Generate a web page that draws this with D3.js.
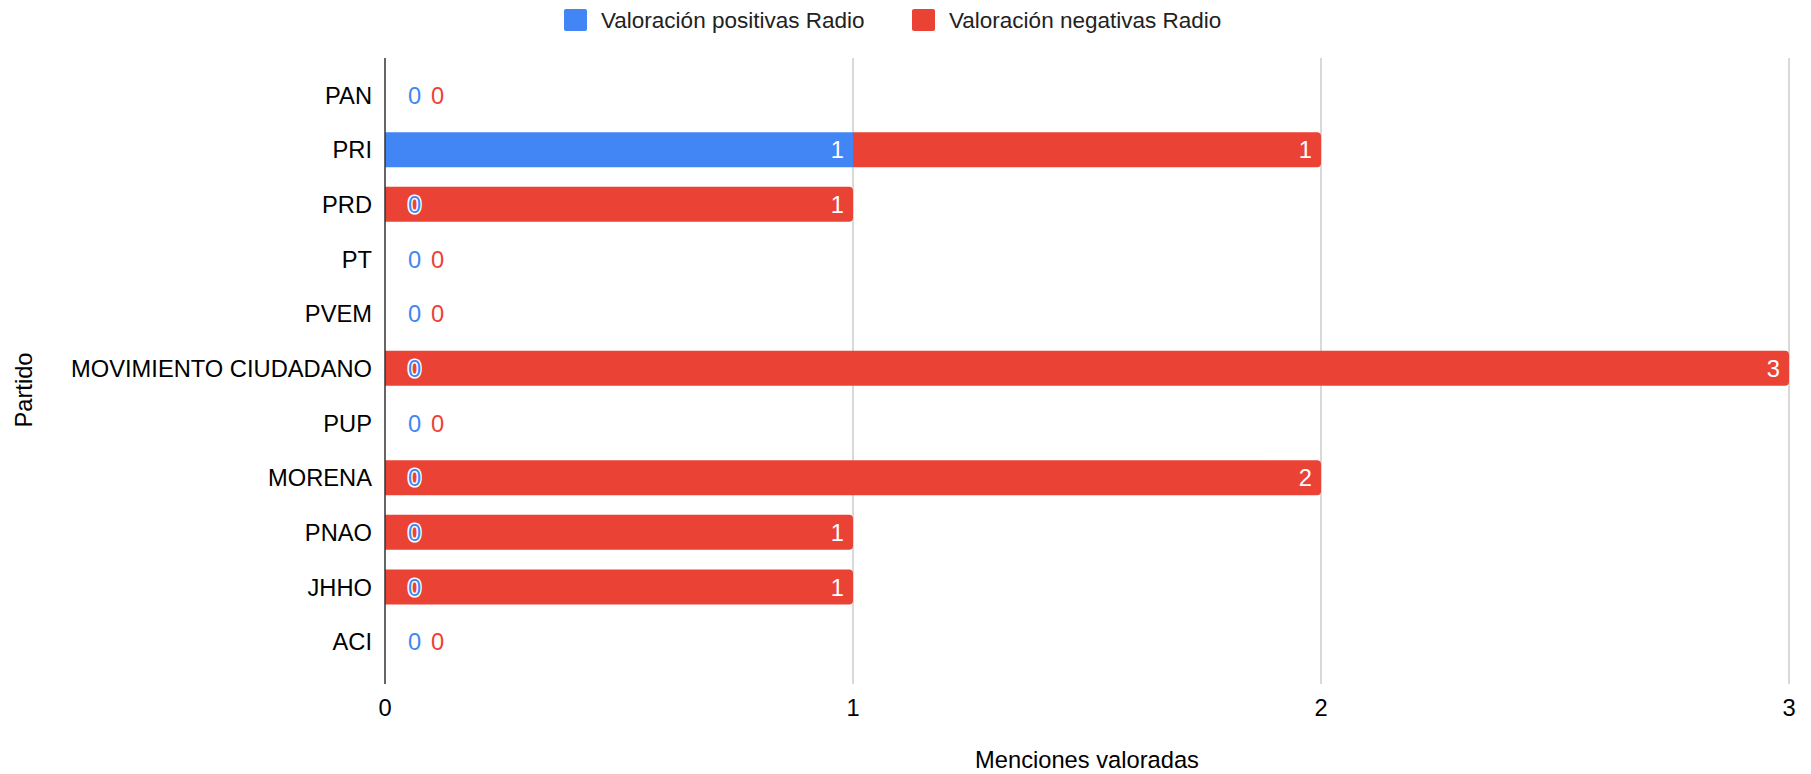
<!DOCTYPE html>
<html><head><meta charset="utf-8">
<script src="https://cdn.jsdelivr.net/npm/d3@7"></script>
<style>html,body{margin:0;padding:0;background:#fff;}svg{display:block;font-family:"Liberation Sans",Arial,Helvetica,sans-serif;}</style>
</head><body>
<svg id="chart" width="1811" height="774"></svg>
<script>
const categories = ["PAN","PRI","PRD","PT","PVEM","MOVIMIENTO CIUDADANO","PUP","MORENA","PNAO","JHHO","ACI"];
const positivas = [0,1,0,0,0,0,0,0,0,0,0];
const negativas = [0,1,1,0,0,3,0,2,1,1,0];
const seriesNames = ["Valoración positivas Radio","Valoración negativas Radio"];
const seriesColors = ["#4285F4","#EA4335"];
const xTicks = [0,1,2,3];
const xTitle = "Menciones valoradas";
const yTitle = "Partido";

const svg = d3.select("#chart");
const FS = 23.7, LFS = 22.5;
const plotLeft = 385, plotRight = 1789, plotTop = 58, plotBottom = 684;
const x = d3.scaleLinear().domain([0,3]).range([plotLeft, plotRight]);
const y = d3.scaleBand().domain(categories).range([67.7, 669]).paddingInner(0.36).paddingOuter(0.18);

// gridlines
svg.append("g").selectAll("line").data(xTicks.filter(t=>t!==0)).join("line")
  .attr("x1", d=>x(d)).attr("x2", d=>x(d)).attr("y1", plotTop).attr("y2", plotBottom)
  .attr("stroke", "#cccccc").attr("stroke-width", 1.5);

// bars
const rows = categories.map((c,i)=>({c, p: positivas[i], n: negativas[i]}));
const r = 4;
function barPath(x0, x1, y0, h, roundRight){
  if (!roundRight) return `M${x0},${y0}H${x1}V${y0+h}H${x0}Z`;
  const rr = Math.min(r, (x1-x0));
  return `M${x0},${y0}H${x1-rr}Q${x1},${y0} ${x1},${y0+rr}V${y0+h-rr}Q${x1},${y0+h} ${x1-rr},${y0+h}H${x0}Z`;
}
const g = svg.append("g");
rows.forEach(d=>{
  const y0 = y(d.c), h = y.bandwidth();
  if (d.p > 0) g.append("path").attr("d", barPath(x(0), x(d.p), y0, h, d.n===0)).attr("fill", seriesColors[0]);
  if (d.n > 0) g.append("path").attr("d", barPath(x(d.p), x(d.p+d.n), y0, h, true)).attr("fill", seriesColors[1]);
});

// axis line at zero
svg.append("line").attr("x1", x(0)).attr("x2", x(0)).attr("y1", plotTop).attr("y2", plotBottom)
  .attr("stroke", "#333333").attr("stroke-width", 1.5);

// value labels
const lg = svg.append("g").attr("font-size", FS);
rows.forEach(d=>{
  const cy = y(d.c) + y.bandwidth()/2;
  const vals = [d.p, d.n];
  let cum = 0;
  vals.forEach((v,k)=>{
    if (v > 0) {
      cum += v;
      lg.append("text").attr("x", x(cum) - 9).attr("y", cy).attr("dy", "0.36em")
        .attr("text-anchor", "end").attr("fill", "#ffffff").text(v);
    }
  });
  const zeros = vals.map((v,k)=>({v,k})).filter(o=>o.v===0);
  zeros.forEach(o=>{
    const xs = (o.k===0) ? x(0)+23 : (d.p===0 ? x(0)+46 : x(0)+23);
    lg.append("text").attr("x", xs).attr("y", cy).attr("dy", "0.36em")
      .attr("fill", seriesColors[o.k]).attr("stroke", "#ffffff").attr("stroke-width", 3)
      .attr("paint-order", "stroke").attr("stroke-linejoin", "round").text(o.v);
  });
});

// y axis labels
svg.append("g").attr("font-size", FS).selectAll("text").data(categories).join("text")
  .attr("x", plotLeft - 13).attr("y", d=>y(d)+y.bandwidth()/2).attr("dy","0.36em")
  .attr("text-anchor","end").attr("fill","#000").text(d=>d);

// x tick labels
svg.append("g").attr("font-size", FS).selectAll("text").data(xTicks).join("text")
  .attr("x", d=>x(d)).attr("y", 707).attr("dy","0.36em").attr("text-anchor","middle").attr("fill","#000").text(d=>d);

// axis titles
svg.append("text").attr("font-size", FS).attr("x", (plotLeft+plotRight)/2).attr("y", 759).attr("dy","0.36em")
  .attr("text-anchor","middle").attr("fill","#000").text(xTitle);
svg.append("text").attr("font-size", FS).attr("transform", "translate(23,390) rotate(-90)").attr("dy","0.36em")
  .attr("text-anchor","middle").attr("fill","#000").text(yTitle);

// legend
const legend = svg.append("g").attr("font-size", LFS);
const legendX = [564, 912];
seriesNames.forEach((s,i)=>{
  legend.append("rect").attr("x", legendX[i]).attr("y", 9).attr("width", 23).attr("height", 22).attr("rx", 2)
    .attr("fill", seriesColors[i]);
  legend.append("text").attr("x", legendX[i]+37).attr("y", 20).attr("dy","0.36em").attr("fill","#222").text(s);
});
</script>
</body></html>
